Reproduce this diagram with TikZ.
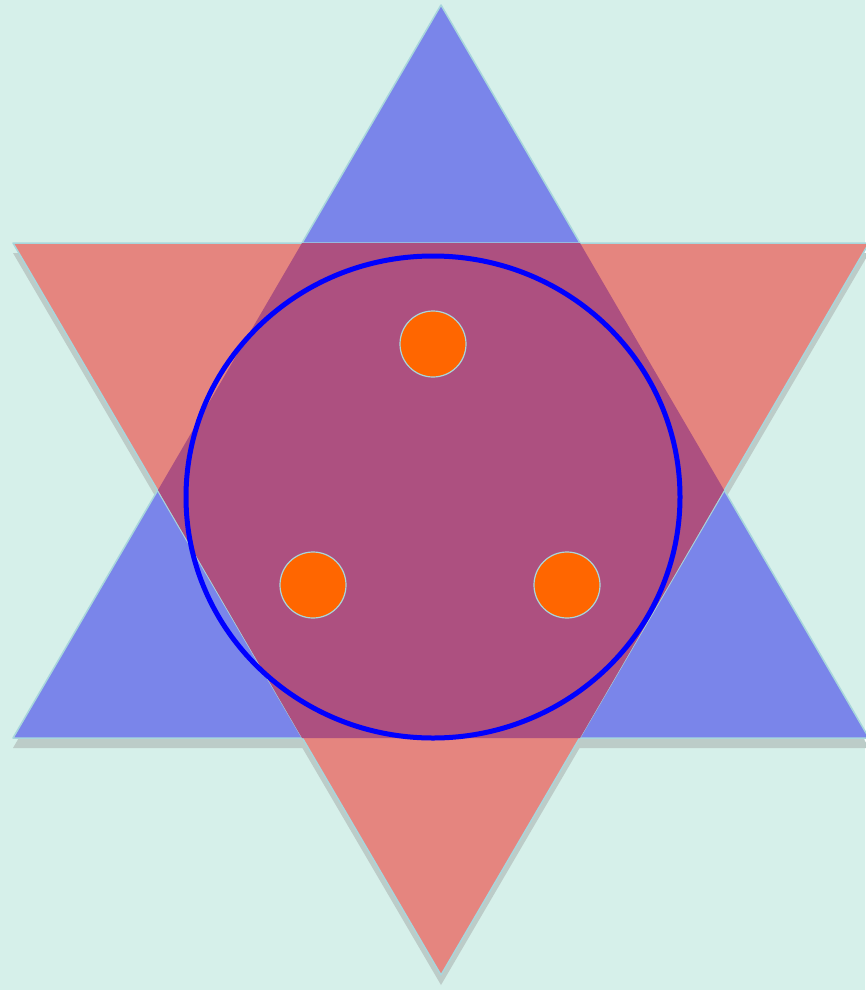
\documentclass[tikz,border=0pt]{standalone}
\usepackage{tikz}
\usetikzlibrary{calc}

\definecolor{paper}{HTML}{D6F0EA}
\definecolor{triblue}{HTML}{7A85EA}
\definecolor{trired}{HTML}{E5857F}
\definecolor{overlap}{HTML}{AD5080}
\definecolor{rim}{HTML}{A8D6DC}
\definecolor{shade}{HTML}{BCCCC8}
\definecolor{ringblue}{HTML}{0000FF}
\definecolor{dotorange}{HTML}{FF6600}

\tikzset{
  tri/.style={draw=rim, line width=1.5pt, line join=round},
  trishadow/.style={fill=shade, draw=none},
  dot/.style={circle, fill=dotorange, draw=rim, line width=1.2pt, minimum size=66pt, inner sep=0pt}
}

\begin{document}
\begin{tikzpicture}[x=1pt, y=-1pt]
  \useasboundingbox[fill=paper] (0,0) rectangle (865,990);
  % star corners
  \coordinate (B1) at (441,5);
  \coordinate (B2) at (13,738);
  \coordinate (B3) at (869,738);
  \coordinate (R1) at (13,243);
  \coordinate (R2) at (869,243);
  \coordinate (R3) at (441,975);
  % shadows
  \fill[trishadow] ($(B1)+(0,10)$) -- ($(B2)+(0,10)$) -- ($(B3)+(0,10)$) -- cycle;
  \fill[trishadow] ($(R1)+(0,10)$) -- ($(R2)+(0,10)$) -- ($(R3)+(0,10)$) -- cycle;
  % triangles
  \filldraw[tri, fill=triblue] (B1) -- (B2) -- (B3) -- cycle;
  \filldraw[tri, fill=trired] (R1) -- (R2) -- (R3) -- cycle;
  \fill[overlap] (302,243) -- (580,243) -- (724,490) -- (580,738) -- (302,738) -- (158,490) -- cycle;
  % ring and dots
  \draw[ringblue, line width=5pt] (433,497) ellipse [x radius=247, y radius=241];
  \node[dot] (top) at (433,344) {};
  \node[dot] (left) at (313,585) {};
  \node[dot] (right) at (567,585) {};
\end{tikzpicture}
\end{document}
